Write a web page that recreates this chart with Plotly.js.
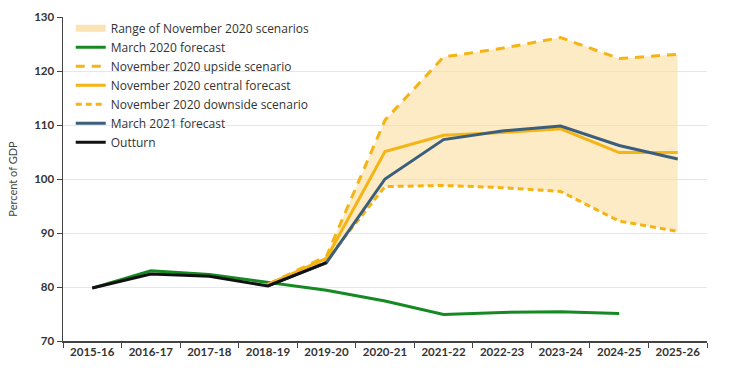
<!DOCTYPE html>
<html><head><meta charset="utf-8">
<script src="https://cdn.plot.ly/plotly-3.0.1.min.js"></script>
<style>html,body{margin:0;padding:0;background:#fff}#chart{width:729px;height:372px}</style>
</head><body><div id="chart"></div>
<script>
const categories = ["2015-16","2016-17","2017-18","2018-19","2019-20","2020-21","2021-22","2022-23","2023-24","2024-25","2025-26"];
const outturn     = [79.8, 82.4, 82.0, 80.2, 84.5, null, null, null, null, null, null];
const march2020   = [79.8, 83.0, 82.3, 80.8, 79.4, 77.4, 74.9, 75.3, 75.4, 75.1, null];
const novUpside   = [null, null, null, 80.5, 85.7, 110.9, 122.6, 124.2, 126.2, 122.3, 123.1];
const novCentral  = [null, null, null, 80.5, 85.3, 105.1, 108.1, 108.6, 109.3, 104.9, 104.9];
const novDownside = [null, null, null, 80.5, 85.0, 98.6, 98.8, 98.4, 97.7, 92.2, 90.3];
const march2021   = [null, null, null, 80.2, 84.5, 100.0, 107.3, 108.9, 109.8, 106.2, 103.7];

const yellow = "#F4B414", fillCol = "rgba(252,222,160,0.6)";
const traces = [
  {x: categories.slice(3), y: novDownside.slice(3), mode: "lines", line: {width: 0, color: fillCol}, showlegend: false, hoverinfo: "skip"},
  {x: categories.slice(3), y: novUpside.slice(3), mode: "lines", line: {width: 0, color: fillCol}, fill: "tonexty", fillcolor: fillCol, showlegend: false, hoverinfo: "skip"},
  {x: [null], y: [null], mode: "lines", name: "Range of November 2020 scenarios", line: {width: 7, color: "#FBE3B4"}, legendrank: 1},
  {x: categories, y: march2020, mode: "lines", name: "March 2020 forecast", line: {width: 3, color: "#168A22"}, legendrank: 2},
  {x: categories, y: novUpside, mode: "lines", name: "November 2020 upside scenario", line: {width: 3, color: yellow, dash: "9px,7px"}, legendrank: 3},
  {x: categories, y: novDownside, mode: "lines", name: "November 2020 downside scenario", line: {width: 3, color: yellow, dash: "6px,4px"}, legendrank: 5},
  {x: categories, y: novCentral, mode: "lines", name: "November 2020 central forecast", line: {width: 3, color: yellow}, legendrank: 4},
  {x: categories, y: march2021, mode: "lines", name: "March 2021 forecast", line: {width: 3, color: "#3A5E7C"}, legendrank: 6},
  {x: categories, y: outturn, mode: "lines", name: "Outturn", line: {width: 3, color: "#111111"}, legendrank: 7}
];

const layout = {
  width: 729, height: 372,
  margin: {l: 63, r: 22, t: 17, b: 31},
  paper_bgcolor: "#fff", plot_bgcolor: "#fff",
  font: {family: "Lato, 'Open Sans', sans-serif", color: "#333"},
  showlegend: true,
  legend: {x: 0.012, y: 1.01, xanchor: "left", yanchor: "top", traceorder: "normal", bgcolor: "rgba(0,0,0,0)", font: {size: 12, color: "#333", family: "'Open Sans', sans-serif"}, tracegroupgap: 0, itemwidth: 30},
  xaxis: {
    type: "category", categoryorder: "array", categoryarray: categories,
    range: [-0.5, 10.5], tickson: "boundaries", ticks: "outside", ticklen: 5, tickcolor: "#444",
    showline: true, linecolor: "#444", linewidth: 1.5, showgrid: false, zeroline: false,
    tickfont: {size: 11.5, color: "#333", family: "Lato, sans-serif", weight: "bold"}
  },
  yaxis: {
    range: [70, 130], dtick: 10, ticks: "outside", ticklen: 5, tickcolor: "#444",
    showline: true, linecolor: "#444", linewidth: 1.5, showgrid: true, gridcolor: "#e6e6e6", gridwidth: 1, zeroline: false,
    tickfont: {size: 11.5, color: "#333", family: "Lato, sans-serif", weight: "bold"},
    title: {text: "Percent of GDP", font: {size: 11, color: "#444"}, standoff: 14}
  }
};
Plotly.newPlot("chart", traces, layout, {displayModeBar: false, staticPlot: true});
</script></body></html>
